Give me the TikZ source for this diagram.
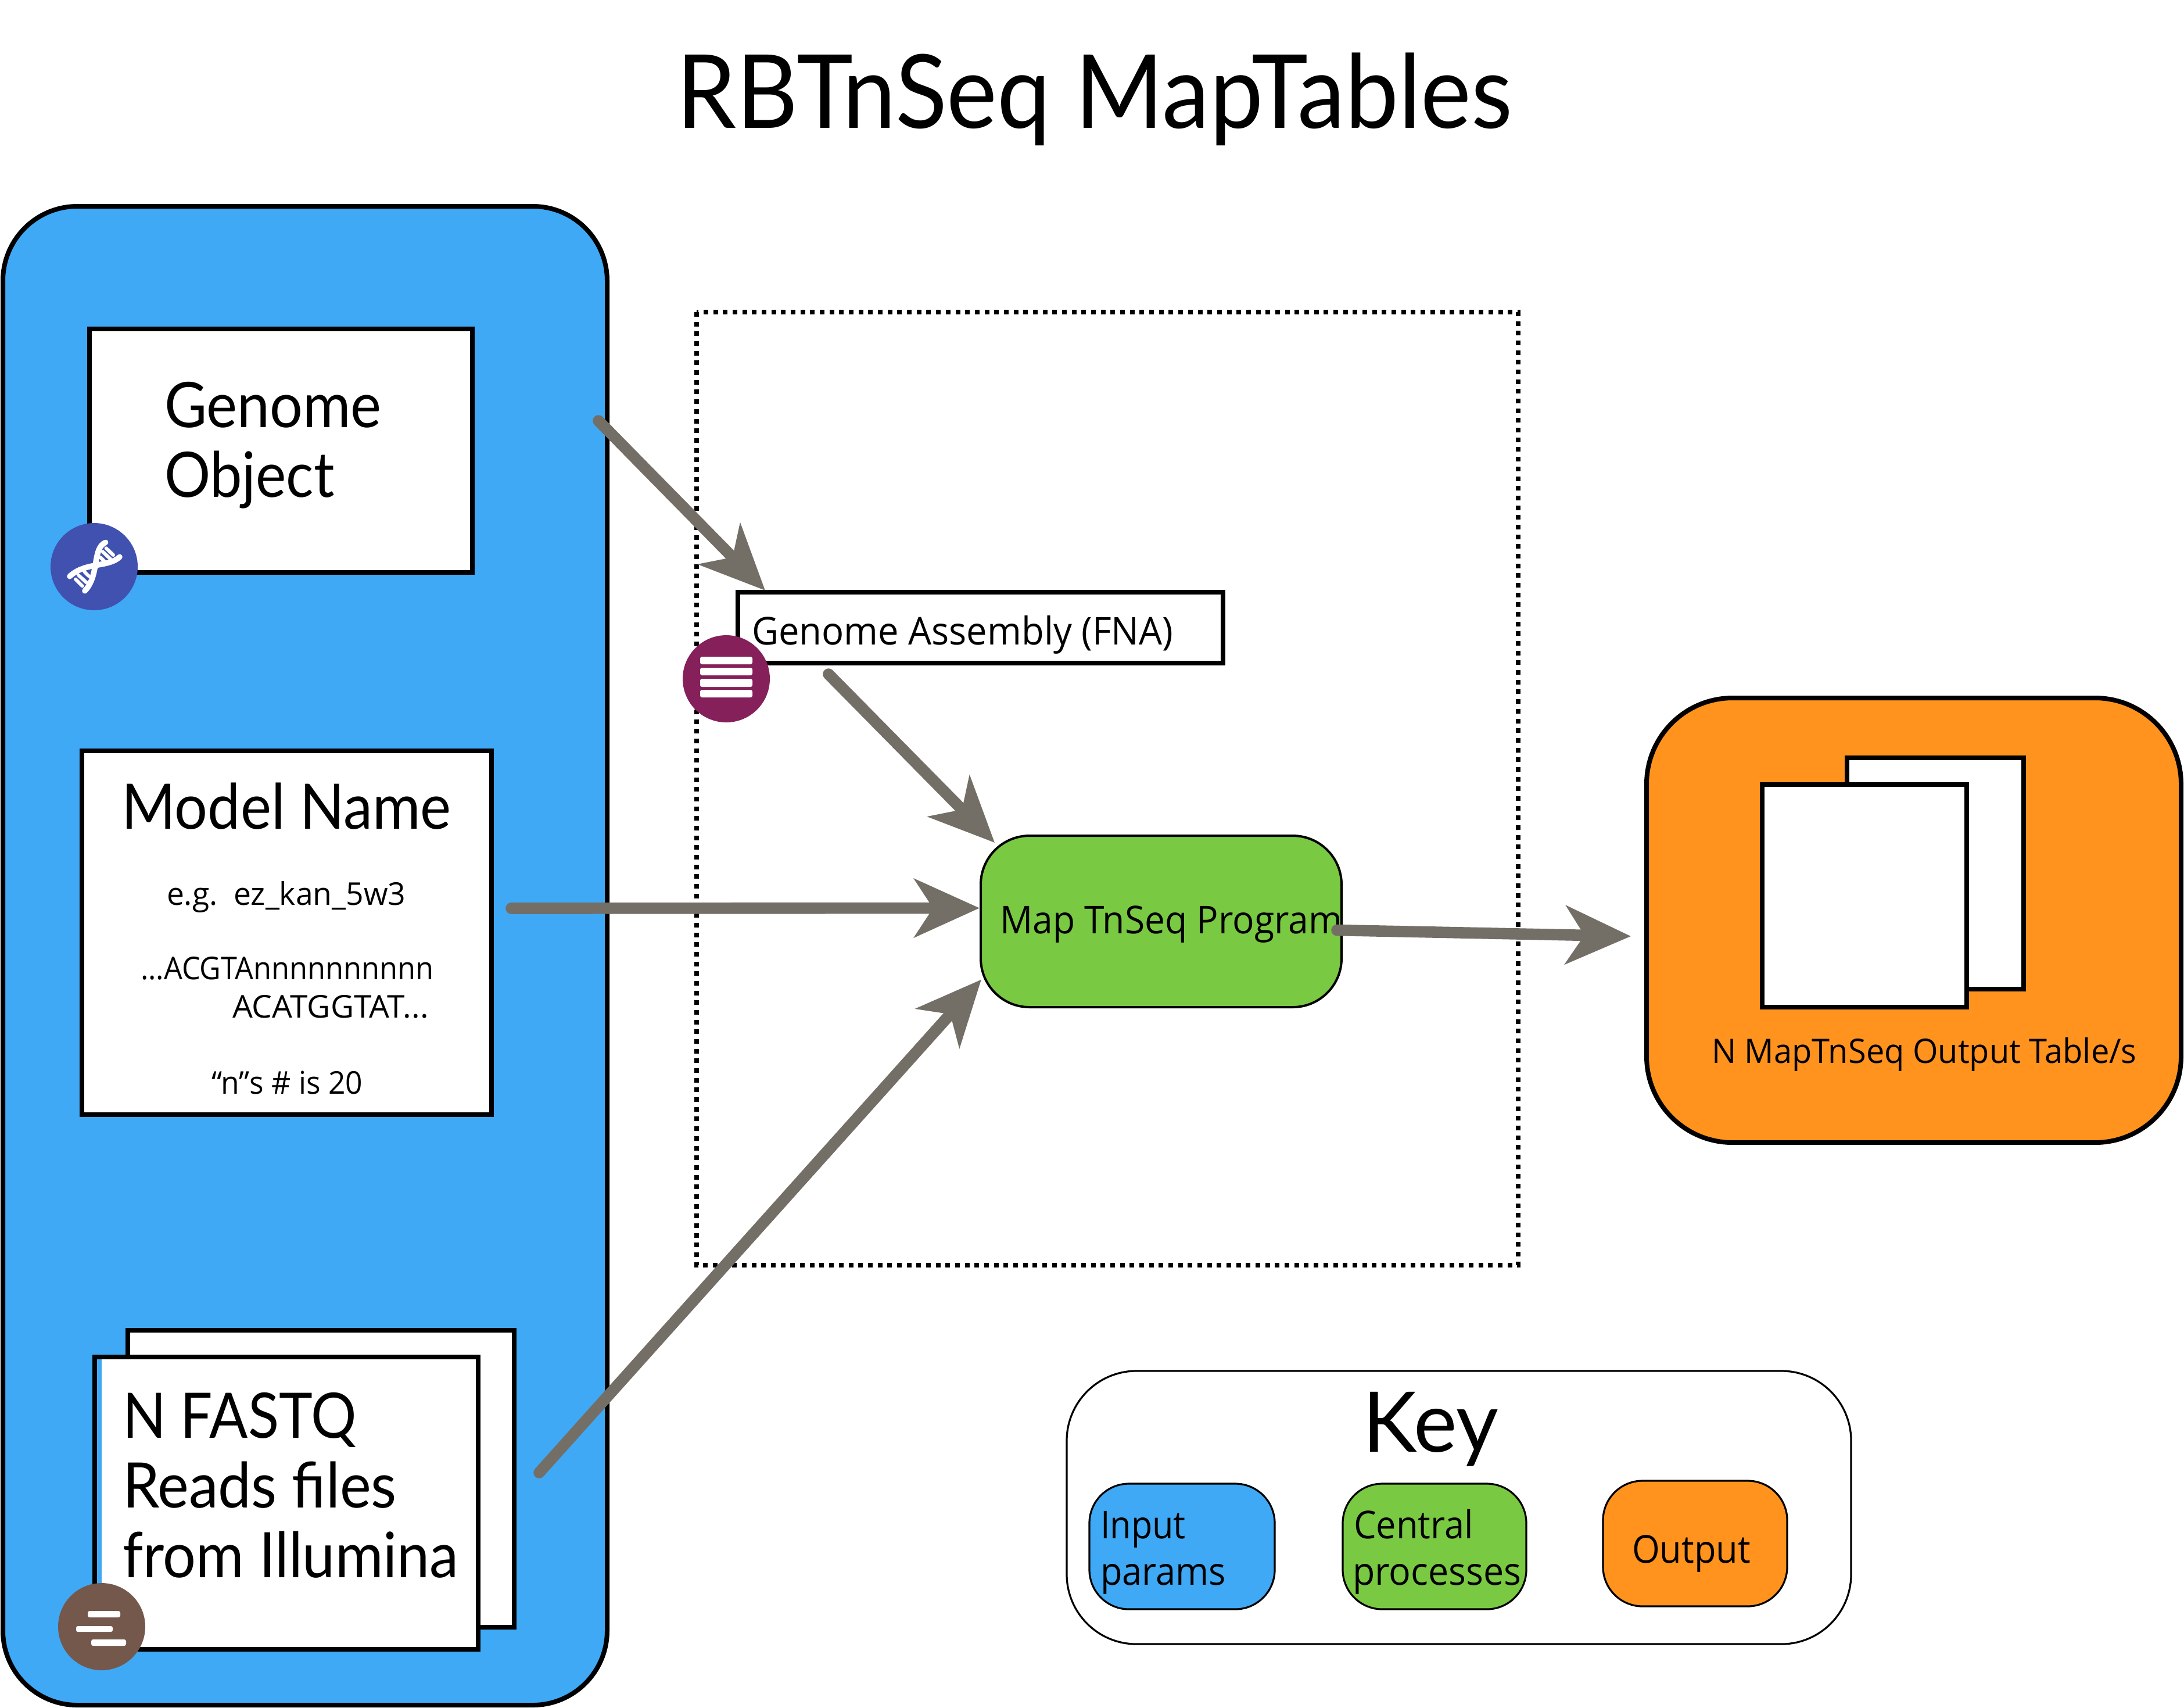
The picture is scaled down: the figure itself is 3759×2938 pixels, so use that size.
\documentclass[tikz,border=0pt]{standalone}
\usepackage{fontspec}
\setmainfont{Open Sans}
\newfontfamily\gill{Lato}
\usetikzlibrary{arrows.meta,calc}
\definecolor{inblue}{HTML}{3FA9F5}
\definecolor{cgreen}{HTML}{7AC943}
\definecolor{outorange}{HTML}{FF931E}
\definecolor{arrowgrey}{HTML}{736F66}
\definecolor{dnablue}{HTML}{4051B0}
\definecolor{asmpurple}{HTML}{85205A}
\definecolor{readsbrown}{HTML}{75584C}
\newcommand{\bx}[6]{%
  \pgfmathsetmacro\wa{(#5-#3)*0.25}\pgfmathsetmacro\ha{(#6-#4)*0.25}%
  \node[#1,minimum width=\wa pt,minimum height=\ha pt] (#2) at ({(#3+#5)/2},{(#4+#6)/2}) {};}
\newcommand{\sq}[2]{\scalebox{#1}[1]{#2}}
\tikzset{
  x=0.25pt,y=-0.25pt,
  plainbox/.style={draw=black,fill=white,line width=2pt,inner sep=0pt,outer sep=0pt,rectangle},
  panel/.style={draw=black,line width=2pt,inner sep=0pt,outer sep=0pt,rectangle,rounded corners=#1},
  keychip/.style={draw=black,line width=0.8pt,inner sep=0pt,outer sep=0pt,rectangle,rounded corners=17pt},
  flow/.style={draw=arrowgrey,line width=4.9pt,line cap=round,-{Stealth[length=28pt,width=25pt,inset=8pt]}},
  badge/.style={circle,inner sep=0pt,outer sep=0pt,minimum size=37.5pt},
  txt/.style={anchor=base west,inner sep=0pt,outer sep=0pt,text=black},
  bar/.style={fill=white,rounded corners=0.8pt},
  big/.style={font=\gill\fontsize{27}{27}\selectfont},
  mid/.style={font=\fontsize{16.5}{16.5}\selectfont},
  small/.style={font=\fontsize{13.5}{13.5}\selectfont},
}
\begin{document}
\begin{tikzpicture}
\useasboundingbox (0,0) rectangle (3759,2938);
\fill[white] (0,0) rectangle (3759,2938);
\node[anchor=base,inner sep=0pt,font=\gill\fontsize{44}{44}\selectfont] (title) at (1884,220) {\sq{0.934}{RBTnSeq MapTables}};
% input panel
\bx{panel=32pt,fill=inblue}{inputs}{5}{355}{1045}{2934}
\bx{plainbox}{genomebox}{154}{566}{813}{985}
\bx{plainbox}{modelbox}{141}{1292}{846}{1918}
\bx{plainbox}{fastqback}{220}{2289}{885}{2800}
\bx{plainbox,fill=inblue}{fastqfront}{163}{2335}{823}{2838}
\fill[white] (175,2339) rectangle (819,2834);
\node[txt,big] (genometxt) at (283,735) {\sq{0.928}{Genome}};
\node[txt,big] (objecttxt) at (283,855) {\sq{0.917}{Object}};
\node[anchor=base,inner sep=0pt,big] (modeltxt) at (493,1426) {\sq{0.929}{Model Name}};
\node[txt,small] (egtxt) at (287,1557) {\sq{0.99}{e.g.\ \ ez\_kan\_5w3}};
\node[txt,small] (seqa) at (242,1685) {\sq{0.933}{...ACGTAnnnnnnnnnn}};
\node[txt,small] (seqb) at (400,1751) {\sq{1.02}{ACATGGTAT...}};
\node[txt,small] (nstxt) at (364,1882) {\sq{0.955}{“n”s \# is 20}};
\node[txt,big] (fqa) at (211,2474) {\sq{0.907}{N FASTQ}};
\node[txt,big] (fqb) at (211,2594) {\sq{0.942}{Reads files}};
\node[txt,big] (fqc) at (211,2714) {\sq{0.93}{from Illumina}};
% central
\draw[black,line width=2pt,dash pattern=on 2pt off 2.17pt] (1199,537) rectangle (2613,2177);
\bx{plainbox}{asmbox}{1270}{1019}{2105}{1141}
\node[txt,mid] (asmtxt) at (1294,1109) {\sq{0.959}{Genome Assembly (FNA)}};
\bx{panel=21pt,fill=cgreen,line width=1pt}{mapbox}{1688}{1438}{2309}{1733}
\node[txt,mid] (maptxt) at (1721,1606) {\sq{0.945}{Map TnSeq Program}};
% output
\bx{panel=37pt,fill=outorange}{outbox}{2834}{1201}{3754}{1966}
\bx{plainbox}{pageback}{3179}{1304}{3483}{1702}
\bx{plainbox}{pagefront}{3033}{1350}{3385}{1733}
\node[txt,font=\fontsize{14.5}{14.5}\selectfont] (outtxt) at (2946,1829) {\sq{0.965}{N MapTnSeq Output Table/s}};
% key
\bx{panel=30pt,fill=white,line width=0.8pt}{keybox}{1836}{2359}{3186}{2829}
\node[anchor=base,inner sep=0pt,font=\gill\fontsize{36}{36}\selectfont] (keytxt) at (2462,2498) {\sq{0.98}{Key}};
\bx{keychip,fill=inblue}{keyin}{1875}{2553}{2194}{2769}
\bx{keychip,fill=cgreen}{keycen}{2311}{2553}{2627}{2769}
\bx{keychip,fill=outorange}{keyout}{2759}{2548}{3076}{2764}
\node[txt,mid] (kina) at (1894,2647) {\sq{0.9}{Input}};
\node[txt,mid] (kinb) at (1894,2727) {\sq{0.93}{params}};
\node[txt,mid] (kcena) at (2330,2647) {\sq{0.93}{Central}};
\node[txt,mid] (kcenb) at (2328,2727) {\sq{0.95}{processes}};
\node[txt,mid] (kouttxt) at (2809,2689) {\sq{0.93}{Output}};
% badges
\node[badge,fill=dnablue] (dna) at (162,975) {};
\draw[white,line width=2.4pt,line cap=round] (181.7,933.3) .. controls (158.3,943.3) and (171.7,990) .. (146,1016.7);
\draw[white,line width=2.4pt,line cap=round] (206,958.3) .. controls (186.7,976.7) and (146.7,966.7) .. (120,991.7);
\foreach \xa/\ya/\xb/\yb in {182.7/943.3/195/955,176.7/949.3/190/961.7,172.7/959/180/966,145.3/984/153.3/991.7,135.3/990/149.3/1002.7,130/996.7/141.7/1008.3}
  \draw[white,line width=1.5pt,line cap=round] (\xa,\ya) -- (\xb,\yb);
\node[badge,fill=asmpurple] (asmbadge) at (1250,1168) {};
\foreach \ya/\yb in {1130/1143,1149/1162,1168/1182,1187/1200}
  \fill[bar] (1205,\ya) rectangle (1295,\yb);
\node[badge,fill=readsbrown] (fqbadge) at (175,2799) {};
\fill[bar] (151,2772) rectangle (207,2783);
\fill[bar] (131,2798) rectangle (194,2808);
\fill[bar] (157,2821) rectangle (217,2832);
% arrows
\coordinate (s1) at (1030,724);
\coordinate (s2) at (1426,1160);
\coordinate (s3) at (880,1563);
\coordinate (s4) at (928,2534);
\coordinate (e5) at (2807,1611);
\draw[flow] (s1) -- ($(asmbox.north west)+(47,-3)$);
\draw[flow] (s2) -- ($(mapbox.north west)+(24,12)$);
\draw[flow] (s3) -- ($(mapbox.west)+(-2,-23)$);
\draw[flow] (s4) -- ($(mapbox.west)+(1,100)$);
\draw[flow] ($(mapbox.east)+(-8,15)$) -- (e5);
\end{tikzpicture}
\end{document}
